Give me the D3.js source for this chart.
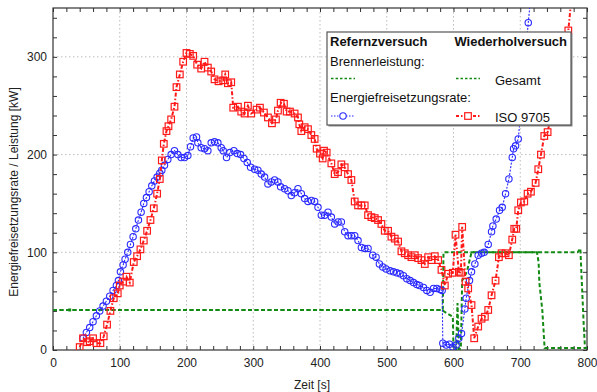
<!DOCTYPE html>
<html><head><meta charset="utf-8">
<script src="https://cdn.jsdelivr.net/npm/d3@7"></script>
<style>
html,body{margin:0;padding:0;background:#fff;}
svg{display:block;font-family:"Liberation Sans",Arial,sans-serif;}
</style></head>
<body>
<svg id="chart" width="597" height="392"></svg>
<script>
// ---- data: [time s, value kW] ----
const xTicksMajor = [0,100,200,300,400,500,600,700,800];
const yTicksMajor = [0,100,200,300];

const burnerRef = [[0,41],[582,41],[584,41],[585,100],[725,100],[727.5,90],[728.6,69],[733,41],[736.5,2],[797,2],[800,2]];
const burnerRep = [[0,41],[582,41],[599,34],[600,1],[604,1],[606,48],[608,1],[611,1],[613,71],[620,80],[627,100],[786,100],[790,104],[795,27],[797,2],[800,2]];
const burnerMark = [[25,41]];

const hrrRef = [[45,12],[50,18],[55,23],[60,29],[65,35],[70,40],[75,45],[80,50],[85,55],[90,61],[95,66],[98,71],[101,80],[105,87],[108,93],[112,100],[116,108],[120,116],[124,124],[128,133],[132,141],[136,150],[140,156],[144,162],[148,168],[152,173],[156,177],[160,181],[163,184],[167,189],[172,195],[177,200],[182,204],[187,200],[192,197],[197,197],[202,199],[206,208],[210,217],[215,218],[217,212],[222,207],[227,206],[232,204],[237,212],[242,213],[247,212],[252,207],[255,204],[260,197],[265,202],[271,204],[276,201],[281,200],[286,196],[291,192],[296,187],[302,185],[307,184],[312,180],[317,177],[322,170],[327,172],[332,174],[337,172],[341,167],[347,165],[352,163],[357,158],[362,161],[367,165],[372,160],[377,155],[382,152],[387,153],[392,152],[397,146],[402,138],[407,138],[412,141],[417,136],[422,129],[427,131],[432,131],[437,121],[442,117],[447,117],[452,117],[457,112],[462,105],[467,104],[472,104],[479,97],[484,95],[489,88],[494,85],[499,83],[505,81],[510,80],[515,79],[520,78],[525,76],[530,73],[535,71],[540,69],[545,67],[549,66],[555,64],[560,61],[565,59],[570,63],[575,63],[580,62],[583,61],[584,7],[589,5],[594,6],[599,3],[604,5],[608,12],[612,17],[617,42],[619,53],[624,71],[627,80],[632,88],[637,97],[642,99],[646,100],[652,108],[657,121],[659,127],[664,134],[669,143],[673,146],[678,160],[683,175],[688,197],[690,206],[693,209],[697,216],[701,245],[706,290],[712,335],[717,370]];

const hrrRep = [[40,3],[45,12],[51,8],[55,9],[60,12],[65,7],[71,7],[76,14],[81,26],[86,40],[91,53],[97,58],[100,66],[105,70],[110,75],[115,69],[121,90],[126,96],[131,103],[136,112],[141,122],[146,133],[151,145],[156,160],[160,175],[163,194],[166,211],[170,224],[173,229],[177,236],[182,249],[185,269],[190,282],[195,295],[200,304],[205,303],[210,301],[216,292],[222,288],[227,295],[232,289],[237,285],[242,277],[248,275],[255,276],[258,282],[262,273],[267,274],[270,248],[277,249],[282,244],[287,242],[292,250],[297,242],[305,246],[310,248],[316,243],[322,238],[328,232],[334,236],[337,245],[341,253],[346,252],[350,244],[355,244],[362,242],[367,238],[369,231],[372,224],[377,228],[382,226],[387,220],[392,216],[395,206],[400,201],[404,196],[406,204],[410,202],[417,191],[422,180],[427,182],[432,190],[437,187],[442,180],[447,174],[452,152],[457,148],[462,148],[467,148],[472,138],[477,136],[482,135],[487,133],[492,129],[497,122],[502,122],[507,116],[512,114],[517,111],[522,101],[527,99],[532,97],[537,95],[542,97],[547,94],[552,92],[557,88],[562,95],[567,92],[572,96],[577,92],[582,82],[587,66],[592,78],[599,79],[603,118],[608,80],[611,79],[613,126],[618,70],[622,63],[627,46],[631,12],[637,24],[642,32],[647,34],[652,41],[657,56],[663,71],[668,95],[672,99],[678,99],[683,97],[688,113],[691,124],[694,124],[697,143],[701,151],[706,152],[711,160],[716,162],[723,171],[727,185],[731,200],[736,219],[741,223],[746,240],[752,258],[757,275],[762,290],[767,305],[772,327],[777,362]];

const legendHeaders = ["Refernzversuch","Wiederholversuch"];
const legendLabels = ["Brennerleistung:","Gesamt","Energiefreisetzungsrate:","ISO 9705"];
const axisTitles = ["Zeit [s]","Energiefreisetzungsrate / Leistung [kW]"];

// ---- styles ----
const GREEN="#138a13", BLUE="#2a2aff", RED="#ff1a1a";

const svg=d3.select("#chart");
const L=53,R=587,T=8,B=350;
const x=d3.scaleLinear().domain([0,800]).range([L,R]);
const y=d3.scaleLinear().domain([0,350]).range([B,T]);

svg.append("defs").append("clipPath").attr("id","clip")
  .append("rect").attr("x",L).attr("y",T).attr("width",R-L).attr("height",B-T);

// grid
const g=svg.append("g");
g.selectAll(".gx").data(xTicksMajor.filter(d=>d>0&&d<800)).enter().append("line")
  .attr("x1",d=>x(d)).attr("x2",d=>x(d)).attr("y1",T).attr("y2",B)
  .attr("stroke","#bdbdbd").attr("stroke-width",1).attr("stroke-dasharray","1.5,2.5");
g.selectAll(".gy").data(yTicksMajor.filter(d=>d>0)).enter().append("line")
  .attr("x1",L).attr("x2",R).attr("y1",d=>y(d)).attr("y2",d=>y(d))
  .attr("stroke","#bdbdbd").attr("stroke-width",1).attr("stroke-dasharray","1.5,2.5");

// axes
const xMinor=d3.range(0,801,20), yMinor=d3.range(0,341,20);
const fmtX=d=>d%100===0?d:"", fmtY=d=>d%100===0?d:"";
const ax=svg.append("g").attr("transform",`translate(0,${B})`)
  .call(d3.axisBottom(x).tickValues(xMinor).tickSize(-4).tickPadding(8).tickFormat(fmtX));
const ay=svg.append("g").attr("transform",`translate(${L},0)`)
  .call(d3.axisLeft(y).tickValues(yMinor).tickSize(-4).tickPadding(6).tickFormat(fmtY));
const at=svg.append("g").attr("transform",`translate(0,${T})`)
  .call(d3.axisTop(x).tickValues(xMinor).tickSize(-4).tickFormat(""));
const ar=svg.append("g").attr("transform",`translate(${R},0)`)
  .call(d3.axisRight(y).tickValues(yMinor).tickSize(-4).tickFormat(""));
[ax,ay,at,ar].forEach(a=>{
  a.select(".domain").remove();
  a.selectAll("line").attr("stroke","#333");
  a.selectAll("text").attr("font-size",12).attr("fill","#222")
    .attr("font-family","'Liberation Sans',Arial,sans-serif");
});
svg.append("rect").attr("x",L).attr("y",T).attr("width",R-L).attr("height",B-T)
  .attr("fill","none").attr("stroke","#333").attr("stroke-width",1.2);

// titles
svg.append("text").attr("x",312).attr("y",389).attr("text-anchor","middle")
  .attr("font-size",12).attr("fill","#222").text(axisTitles[0]);
svg.append("text").attr("transform","translate(18,192) rotate(-90)").attr("text-anchor","middle")
  .attr("font-size",12).attr("fill","#222").text(axisTitles[1]);

// data
const line=d3.line().x(d=>x(d[0])).y(d=>y(d[1]));
const plot=svg.append("g").attr("clip-path","url(#clip)");

[burnerRef,burnerRep].forEach(s=>{
  plot.append("path").datum(s).attr("d",line).attr("fill","none")
    .attr("stroke",GREEN).attr("stroke-width",2).attr("stroke-dasharray","4,2.5");
});
plot.selectAll(".bm").data(burnerMark).enter().append("rect")
  .attr("x",d=>x(d[0])-1.5).attr("y",d=>y(d[1])-1.5).attr("width",3).attr("height",3).attr("fill",GREEN);

plot.append("path").datum(hrrRef).attr("d",line).attr("fill","none")
  .attr("stroke",BLUE).attr("stroke-width",1.1).attr("stroke-dasharray","2,1.5");
plot.selectAll(".c").data(hrrRef).enter().append("circle")
  .attr("cx",d=>x(d[0])).attr("cy",d=>y(d[1])).attr("r",3.2)
  .attr("fill","none").attr("stroke",BLUE).attr("stroke-width",1.1);

plot.append("path").datum(hrrRep).attr("d",line).attr("fill","none")
  .attr("stroke",RED).attr("stroke-width",2).attr("stroke-dasharray","4,2,1.5,2");
plot.selectAll(".s").data(hrrRep).enter().append("rect")
  .attr("x",d=>x(d[0])-3.3).attr("y",d=>y(d[1])-3.3).attr("width",6.6).attr("height",6.6)
  .attr("fill","none").attr("stroke",RED).attr("stroke-width",1.2);

// legend
const lg=svg.append("g");
lg.append("rect").attr("x",328.5).attr("y",33.5).attr("width",244).attr("height",93).attr("fill","#8a8a8a");
lg.append("rect").attr("x",327).attr("y",32).attr("width",244).attr("height",93)
  .attr("fill","#fff").attr("stroke","#555").attr("stroke-width",1.2);
lg.append("text").attr("x",330).attr("y",46).attr("font-size",13).attr("font-weight","bold").attr("fill","#111").text(legendHeaders[0]);
lg.append("text").attr("x",567).attr("y",46).attr("text-anchor","end").attr("font-size",13).attr("font-weight","bold").attr("fill","#111").text(legendHeaders[1]);
lg.append("text").attr("x",330).attr("y",66).attr("font-size",13).attr("fill","#111").text(legendLabels[0]);
lg.append("text").attr("x",495).attr("y",84.5).attr("font-size",13).attr("fill","#111").text(legendLabels[1]);
lg.append("text").attr("x",330).attr("y",102).attr("font-size",13).attr("fill","#111").text(legendLabels[2]);
lg.append("text").attr("x",495).attr("y",122).attr("font-size",13).attr("fill","#111").text(legendLabels[3]);
[[331,355],[456,480]].forEach(([a,b])=>{
  lg.append("line").attr("x1",a).attr("x2",b).attr("y1",78.5).attr("y2",78.5)
    .attr("stroke",GREEN).attr("stroke-width",1.6).attr("stroke-dasharray","2.5,2");
});
lg.append("line").attr("x1",331).attr("x2",355).attr("y1",116).attr("y2",116)
  .attr("stroke",BLUE).attr("stroke-width",1.1).attr("stroke-dasharray","1.5,1.5");
lg.append("circle").attr("cx",343).attr("cy",116).attr("r",3.2).attr("fill","#fff").attr("stroke",BLUE).attr("stroke-width",1.1);
lg.append("line").attr("x1",456).attr("x2",480).attr("y1",116).attr("y2",116)
  .attr("stroke",RED).attr("stroke-width",2).attr("stroke-dasharray","3,2,1.5,2");
lg.append("rect").attr("x",464.7).attr("y",112.7).attr("width",6.6).attr("height",6.6).attr("fill","#fff").attr("stroke",RED).attr("stroke-width",1.2);
</script>
</body></html>
